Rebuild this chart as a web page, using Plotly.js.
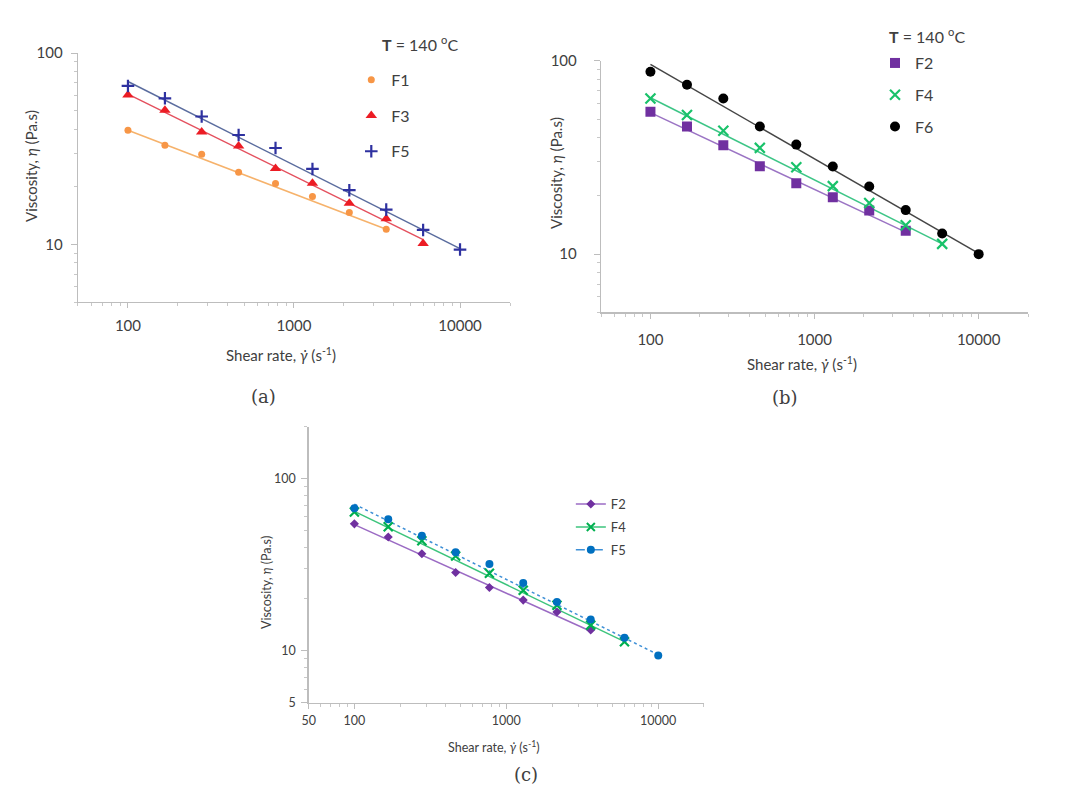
<!DOCTYPE html>
<html>
<head>
<meta charset="utf-8">
<script src="https://cdn.plot.ly/plotly-3.0.1.min.js"></script>
<style>html,body{margin:0;padding:0;background:#fff;}#chart{width:1071px;height:794px;}</style>
</head>
<body>
<div id="chart"></div>
<script>
// Shear rates (s^-1)
var shearRate = [100, 167, 278, 464, 774, 1292, 2154, 3594, 5995, 10000];

// Viscosity data (Pa.s)
var F1 = [39.5, 33.0, 29.6, 23.8, 20.8, 17.8, 14.7, 12.0];
var F3 = [60.4, 50.3, 38.7, 32.7, 24.9, 20.9, 16.4, 13.6, 10.1];
var F5 = [67.3, 58.0, 46.6, 37.3, 31.9, 24.8, 19.2, 15.2, 11.9, 9.4];
var F2 = [54.6, 45.8, 36.6, 28.5, 23.3, 19.7, 16.8, 13.2];
var F4 = [64.0, 52.5, 43.5, 35.5, 28.2, 22.5, 18.4, 14.1, 11.3];
var F6 = [88.0, 75.4, 64.0, 45.8, 36.9, 28.4, 22.4, 16.9, 12.8, 10.0];

// Power-law trend lines (end points)
var fitF1x = [100, 3594],  fitF1y = [39.5, 12.0];
var fitF3x = [100, 5995],  fitF3y = [61.0, 10.6];
var fitF5x = [100, 10000], fitF5y = [71.0, 9.5];
var fitF2x = [100, 3594],  fitF2y = [54.0, 13.0];
var fitF4x = [100, 5995],  fitF4y = [64.5, 11.3];
var fitF6x = [100, 10000], fitF6y = [96.0, 10.1];

var xTicksAB = [100, 1000, 10000];
var yTicksAB = [10, 100];
var xTicksC = [50, 100, 1000, 10000];
var yTicksC = [5, 10, 100];

var xTitle = 'Shear rate, <i>γ̇</i> (s<sup>-1</sup>)';
var yTitle = 'Viscosity, <i>η</i> (Pa.s)';

function xs(n){ return shearRate.slice(0, n); }

var FONT = 'Lato, "Open Sans", sans-serif';
var SERIF = '"DejaVu Serif", "Liberation Serif", serif';
var TXT = '#404040';

var traces = [
  // ---- (a)
  {x: fitF1x, y: fitF1y, mode:'lines', line:{color:'#f6b26b', width:1.5}, xaxis:'x', yaxis:'y', showlegend:false, hoverinfo:'skip'},
  {x: fitF3x, y: fitF3y, mode:'lines', line:{color:'#e4505e', width:1.5}, xaxis:'x', yaxis:'y', showlegend:false, hoverinfo:'skip'},
  {x: fitF5x, y: fitF5y, mode:'lines', line:{color:'#5a6c9e', width:1.5}, xaxis:'x', yaxis:'y', showlegend:false, hoverinfo:'skip'},
  {x: xs(F1.length), y: F1, name:'F1', mode:'markers', marker:{symbol:'circle', size:7, color:'#f79646'}, xaxis:'x', yaxis:'y', legend:'legend', legendgroup:'a1'},
  {x: xs(F3.length), y: F3, name:'F3', mode:'markers', marker:{symbol:'triangle-up', size:10, color:'#ec1c24'}, xaxis:'x', yaxis:'y', legend:'legend', legendgroup:'a3'},
  {x: xs(F5.length), y: F5, name:'F5', mode:'markers', marker:{symbol:'cross-thin', size:9, line:{color:'#2e31a0', width:2.2}}, xaxis:'x', yaxis:'y', legend:'legend', legendgroup:'a5'},
  // ---- (b)
  {x: fitF2x, y: fitF2y, mode:'lines', line:{color:'#9b74c4', width:1.5}, xaxis:'x2', yaxis:'y2', showlegend:false, hoverinfo:'skip'},
  {x: fitF4x, y: fitF4y, mode:'lines', line:{color:'#3cc586', width:1.5}, xaxis:'x2', yaxis:'y2', showlegend:false, hoverinfo:'skip'},
  {x: fitF6x, y: fitF6y, mode:'lines', line:{color:'#454545', width:1.5}, xaxis:'x2', yaxis:'y2', showlegend:false, hoverinfo:'skip'},
  {x: xs(F2.length), y: F2, name:'F2', mode:'markers', marker:{symbol:'square', size:10, color:'#7030a0'}, xaxis:'x2', yaxis:'y2', legend:'legend2', legendgroup:'b2'},
  {x: xs(F4.length), y: F4, name:'F4', mode:'markers', marker:{symbol:'x-thin', size:10, line:{color:'#19c26a', width:2.2}}, xaxis:'x2', yaxis:'y2', legend:'legend2', legendgroup:'b4'},
  {x: xs(F6.length), y: F6, name:'F6', mode:'markers', marker:{symbol:'circle', size:10, color:'#000000'}, xaxis:'x2', yaxis:'y2', legend:'legend2', legendgroup:'b6'},
  // ---- (c)
  {x: fitF2x, y: fitF2y, mode:'lines', line:{color:'#9b6bc4', width:1.5}, xaxis:'x3', yaxis:'y3', showlegend:false, hoverinfo:'skip'},
  {x: fitF4x, y: fitF4y, mode:'lines', line:{color:'#3cc47c', width:1.5}, xaxis:'x3', yaxis:'y3', showlegend:false, hoverinfo:'skip'},
  {x: fitF5x, y: fitF5y, mode:'lines', line:{color:'#3d8fd6', width:1.5, dash:'dot'}, xaxis:'x3', yaxis:'y3', showlegend:false, hoverinfo:'skip'},
  {x: xs(F2.length), y: F2, mode:'markers', marker:{symbol:'diamond', size:7, color:'#7030a0'}, xaxis:'x3', yaxis:'y3', showlegend:false},
  {x: xs(F4.length), y: F4, mode:'markers', marker:{symbol:'x-thin', size:9, line:{color:'#00b050', width:2.2}}, xaxis:'x3', yaxis:'y3', showlegend:false},
  {x: xs(F5.length), y: F5, mode:'markers', marker:{symbol:'circle', size:8, color:'#0070c0'}, xaxis:'x3', yaxis:'y3', showlegend:false},
  // legend entries for (c)
  {x:[null], y:[null], name:'F2', mode:'lines+markers', line:{color:'#9b6bc4', width:1.5}, marker:{symbol:'diamond', size:7, color:'#7030a0'}, xaxis:'x3', yaxis:'y3', legend:'legend3', legendgroup:'c2'},
  {x:[null], y:[null], name:'F4', mode:'lines+markers', line:{color:'#3cc47c', width:1.5}, marker:{symbol:'x-thin', size:8, line:{color:'#00b050', width:2}}, xaxis:'x3', yaxis:'y3', legend:'legend3', legendgroup:'c4'},
  {x:[null], y:[null], name:'F5', mode:'lines+markers', line:{color:'#3d8fd6', width:1.5, dash:'dash'}, marker:{symbol:'circle', size:8, color:'#0070c0'}, xaxis:'x3', yaxis:'y3', legend:'legend3', legendgroup:'c5'}
];

function xAxis(domain, anchor, tickvals, fs, lso){
  return {
    type:'log', domain:domain, anchor:anchor,
    range:[Math.log10(50), Math.log10(20000)],
    tickvals:tickvals, ticktext:tickvals.map(String),
    ticks:'outside', ticklen:5, tickcolor:'#bdbdbd', tickwidth:1,
    ticklabelstandoff:lso,
    showline:true, linecolor:'#bdbdbd', linewidth:1.3,
    showgrid:false, zeroline:false,
    minor:{dtick:'D1', ticks:'outside', ticklen:3, tickcolor:'#c8c8c8', showgrid:false},
    tickfont:{family:FONT, size:fs, color:TXT}
  };
}
function yAxis(domain, anchor, range, tickvals, fs, lso){
  return {
    type:'log', domain:domain, anchor:anchor, range:range,
    tickvals:tickvals, ticktext:tickvals.map(String),
    ticks:'outside', ticklen:6, tickcolor:'#bdbdbd', tickwidth:1,
    ticklabelstandoff:lso,
    showline:true, linecolor:'#bdbdbd', linewidth:1.3,
    showgrid:false, zeroline:false,
    minor:{dtick:'D1', ticks:'outside', ticklen:3, tickcolor:'#c8c8c8', showgrid:false},
    tickfont:{family:FONT, size:fs, color:TXT}
  };
}

function ann(x, y, text, size, family, angle){
  return {xref:'paper', yref:'paper', x:x/1071, y:1-y/794, xanchor:'center', yanchor:'middle',
          showarrow:false, text:text, textangle:angle||0, font:{family:family, size:size, color:TXT}};
}

var layout = {
  width:1071, height:794,
  margin:{l:0, r:0, t:0, b:0},
  paper_bgcolor:'#ffffff', plot_bgcolor:'#ffffff',
  font:{family:FONT, color:TXT},
  showlegend:true,
  xaxis:  xAxis([0.0728, 0.4762], 'y',  xTicksAB, 15, 5),
  yaxis:  yAxis([0.6196, 0.9332], 'x',  [Math.log10(5), 2], yTicksAB, 15, 5),
  xaxis2: xAxis([0.5612, 0.9599], 'y2', xTicksAB, 15, 8),
  yaxis2: yAxis([0.6067, 0.9232], 'x2', [Math.log10(5), 2], yTicksAB, 15, 14),
  xaxis3: xAxis([0.2882, 0.6573], 'y3', xTicksC, 12.5, 1),
  yaxis3: yAxis([0.1150, 0.4626], 'x3', [Math.log10(5), Math.log10(200)], yTicksC, 12.5, 3),
  legend:  {x:0.328, y:0.921, xanchor:'left', yanchor:'top', bgcolor:'rgba(0,0,0,0)', font:{family:FONT, size:16, color:TXT}, tracegroupgap:12},
  legend2: {x:0.817, y:0.942, xanchor:'left', yanchor:'top', bgcolor:'rgba(0,0,0,0)', font:{family:FONT, size:16, color:TXT}, tracegroupgap:8},
  legend3: {x:0.533, y:0.384, xanchor:'left', yanchor:'top', bgcolor:'rgba(0,0,0,0)', font:{family:FONT, size:13, color:TXT}, tracegroupgap:3},
  annotations:[
    {xref:'paper', yref:'paper', x:380/1071, y:1-43/794, xanchor:'left', yanchor:'middle', showarrow:false,
     text:'<b>T</b> = 140 <sup>o</sup>C', font:{family:FONT, size:16, color:TXT}},
    {xref:'paper', yref:'paper', x:887/1071, y:1-35/794, xanchor:'left', yanchor:'middle', showarrow:false,
     text:'<b>T</b> = 140 <sup>o</sup>C', font:{family:FONT, size:16, color:TXT}},
    ann(281, 354, xTitle, 15, FONT),
    ann(31, 166, yTitle, 15, FONT, -90),
    ann(802, 364, xTitle, 15, FONT),
    ann(556, 173, yTitle, 15, FONT, -90),
    ann(494, 746, xTitle, 12.5, FONT),
    ann(266, 583, yTitle, 12.5, FONT, -90),
    ann(263, 396, '(a)', 18, SERIF),
    ann(785, 397, '(b)', 18, SERIF),
    ann(526, 774, '(c)', 18, SERIF)
  ]
};

Plotly.newPlot('chart', traces, layout, {displayModeBar:false, staticPlot:true});
</script>
</body>
</html>
